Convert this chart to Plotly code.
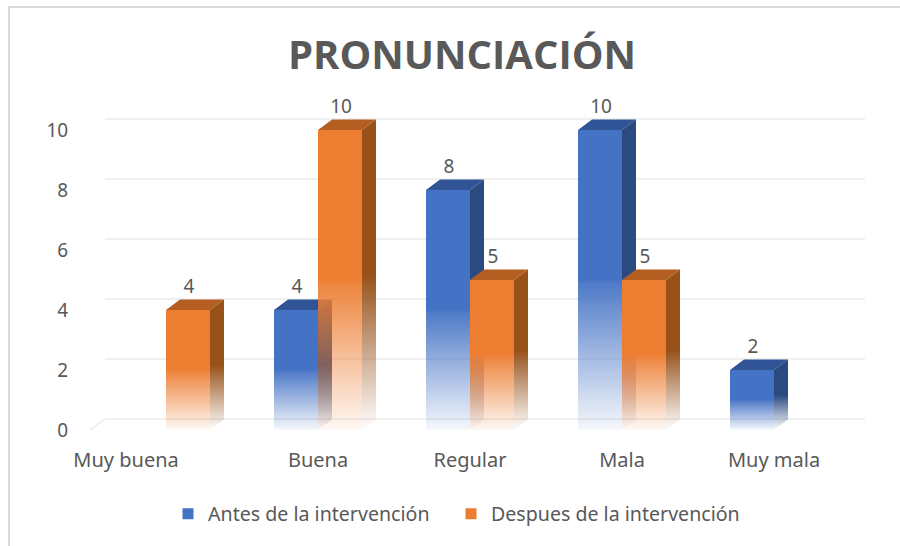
import plotly.graph_objects as go

categories = ["Muy buena", "Buena", "Regular", "Mala", "Muy mala"]
antes = [0, 4, 8, 10, 2]
despues = [4, 10, 5, 5, 0]
series_names = ["Antes de la intervención", "Despues de la intervención"]
y_ticks = [0, 2, 4, 6, 8, 10]
x_tick_positions = [-0.263, 1, 2, 3, 4]

# 3-D look, expressed in axis units
BAR_W = 44 / 152
DEPTH_X = 14 / 152
DEPTH_Y = 10.5 / 30
GRID_DX = 15 / 152
GRID_DY = 11 / 30
X_MIN, X_MAX = -0.5, -0.5 + 790 / 152
GRID_END = -0.5 + 775 / 152


def rgba(rgb, a):
    return f"rgba({rgb[0]},{rgb[1]},{rgb[2]},{a})"


def fade(rgb, low, mid):
    return dict(type="vertical", colorscale=[
        [0, rgba(rgb, low)], [0.49, rgba(rgb, mid)], [0.5, rgba(rgb, 1)], [1, rgba(rgb, 1)]])


fig = go.Figure()

# gridlines on the back wall and the floor edge
gx, gy = [], []
for t in y_ticks:
    gx += [X_MIN + GRID_DX, GRID_END, None]
    gy += [t + GRID_DY, t + GRID_DY, None]
gx += [X_MIN, X_MIN + GRID_DX]
gy += [0, GRID_DY]
fig.add_trace(go.Scatter(x=gx, y=gy, mode="lines", line=dict(color="#F0F0F0", width=2),
                         hoverinfo="skip", showlegend=False))

palette = [
    dict(front=(68, 114, 196), side=(43, 74, 128), top=(49, 84, 150)),
    dict(front=(237, 125, 49), side=(151, 81, 25), top=(180, 95, 33)),
]


def poly(xs, ys, **kw):
    fig.add_trace(go.Scatter(x=xs + xs[:1], y=ys + ys[:1], mode="lines", fill="toself",
                             line=dict(width=0), hoverinfo="skip", showlegend=False, **kw))


for s, values in enumerate([antes, despues]):
    c = palette[s]
    for i, v in enumerate(values):
        if v == 0:
            continue
        x0 = i - BAR_W if s == 0 else i
        x1 = x0 + BAR_W
        poly([x1, x1 + DEPTH_X, x1 + DEPTH_X, x1], [0, DEPTH_Y, v + DEPTH_Y, v],
             fillgradient=fade(c["side"], 0.0, 0.98))
        poly([x0, x1, x1 + DEPTH_X, x0 + DEPTH_X], [v, v, v + DEPTH_Y, v + DEPTH_Y],
             fillcolor=rgba(c["top"], 1))
        poly([x0, x1, x1, x0], [0, 0, v, v],
             fillgradient=fade(c["front"], 0.05, 0.94))

# data labels
for s, values in enumerate([antes, despues]):
    xs = [i + (-BAR_W / 2 if s == 0 else BAR_W / 2) + 0.007 for i, v in enumerate(values) if v]
    vs = [v for v in values if v]
    fig.add_trace(go.Scatter(x=xs, y=[v + 0.72 for v in vs], mode="text", text=[str(v) for v in vs],
                             textposition="middle center", hoverinfo="skip", showlegend=False,
                             textfont=dict(size=19, color="#595959")))

# legend entries
for s, name in enumerate(series_names):
    fig.add_trace(go.Scatter(x=[None], y=[None], mode="markers", name=name,
                             legend="legend" if s == 0 else "legend2",
                             marker=dict(symbol="square", size=11,
                                         color=rgba(palette[s]["front"], 1))))

W, H = 900, 546
L, R, T, B = 90, 20, 80, 116
PW = W - L - R
PH = H - T - B


def px(p):
    return (p - L) / PW


def py(p):
    return 1 - (p - T) / PH


fig.update_layout(
    width=W, height=H, autosize=False,
    margin=dict(l=L, r=R, t=T, b=B),
    paper_bgcolor="white", plot_bgcolor="white",
    font=dict(family="Noto Sans, sans-serif", color="#595959", size=20),
    title=dict(text="<b>PRONUNCIACIÓN</b>", x=462 / W, xanchor="center", y=1 - 55 / H, yanchor="middle",
               font=dict(size=40, color="#595959", family="Open Sans, sans-serif")),
    xaxis=dict(range=[X_MIN, X_MAX], tickmode="array", tickvals=x_tick_positions, ticktext=categories,
               showgrid=False, zeroline=False, showline=False,
               ticks="outside", ticklen=12, tickcolor="rgba(0,0,0,0)",
               tickfont=dict(size=20, color="#595959")),
    yaxis=dict(range=[0, PH / 30], tickmode="array", tickvals=y_ticks,
               showgrid=False, zeroline=False, showline=False,
               ticks="outside", ticklen=17, tickcolor="rgba(0,0,0,0)",
               tickfont=dict(size=19, color="#595959")),
    legend=dict(orientation="h", x=px(168), xanchor="left", y=py(514), yanchor="middle",
                font=dict(size=19.6, color="#595959"), bgcolor="rgba(0,0,0,0)", itemclick=False),
    legend2=dict(orientation="h", x=px(451), xanchor="left", y=py(514), yanchor="middle",
                 font=dict(size=19.6, color="#595959"), bgcolor="rgba(0,0,0,0)", itemclick=False),
    shapes=[
        dict(type="line", xref="paper", yref="paper", x0=px(8), x1=px(900), y0=py(7), y1=py(7),
             line=dict(color="#D9D9D9", width=2)),
        dict(type="line", xref="paper", yref="paper", x0=px(9), x1=px(9), y0=py(7), y1=py(546),
             line=dict(color="#D9D9D9", width=2)),
    ],
)

fig.write_html("out.html", config={"displayModeBar": False},
               post_script="document.body.style.margin='0';")
